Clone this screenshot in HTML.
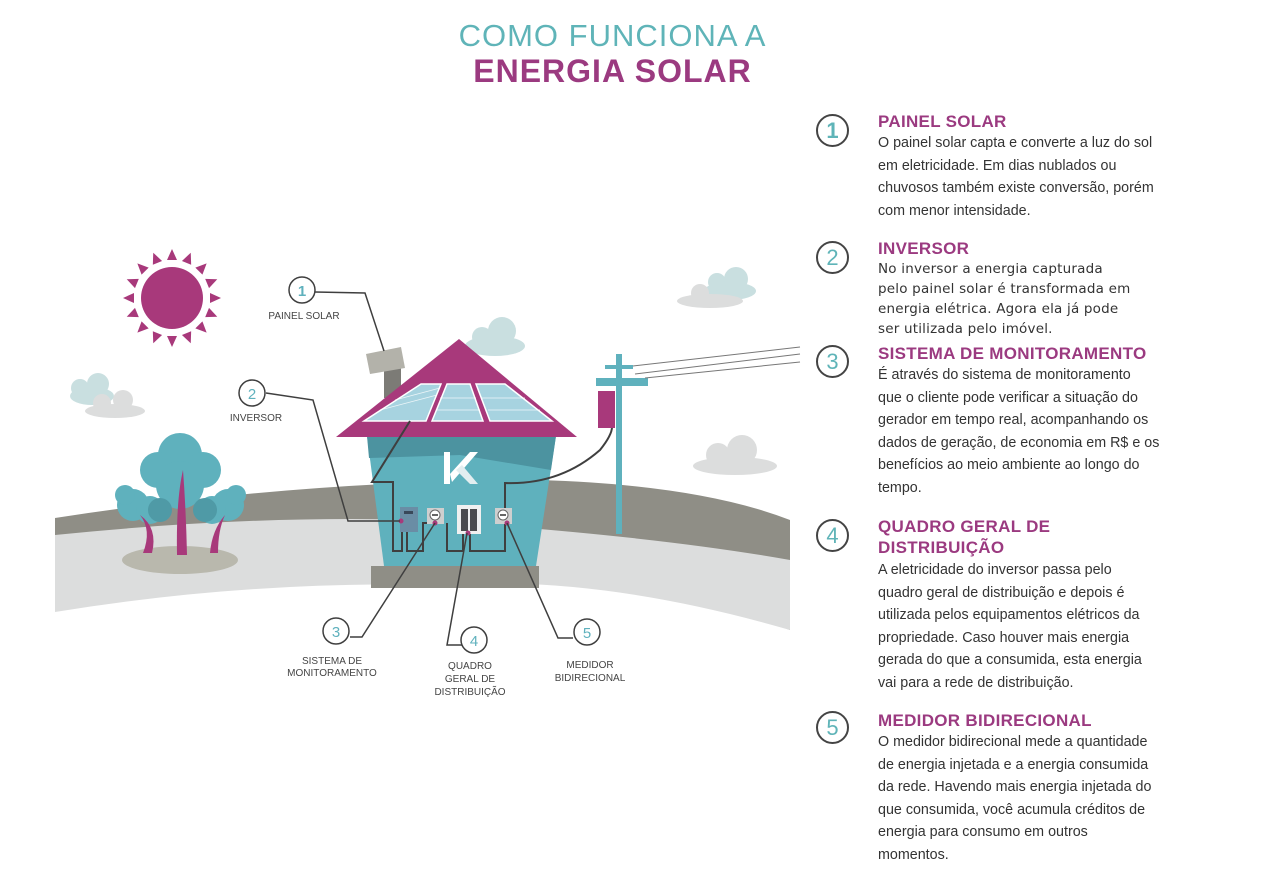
<!DOCTYPE html>
<html><head><meta charset="utf-8">
<style>
html,body{margin:0;padding:0;background:#fff;width:1283px;height:878px;overflow:hidden;position:relative;font-family:"Liberation Sans",sans-serif}
.t1{position:absolute;left:0;width:1225px;text-align:center;top:18px;font-size:31px;color:#5fb4b8;letter-spacing:1px;font-weight:normal}
.t2{position:absolute;left:0;width:1225px;text-align:center;top:53px;font-size:32px;color:#9b3a80;font-weight:bold;letter-spacing:1px}
.num{position:absolute;left:816px;width:33px;height:33px;border:2px solid #444;border-radius:50%;box-sizing:border-box;text-align:center;line-height:30px;font-size:22px;color:#5fb4b8}
.h{position:absolute;left:878px;font-size:17px;font-weight:bold;color:#9b3a80;line-height:21px;letter-spacing:.3px}
.p{position:absolute;left:878px;font-size:14.3px;line-height:22.5px;color:#333;width:292px}
.p2{font-family:"DejaVu Sans",sans-serif;font-size:13.5px;line-height:20px;letter-spacing:.2px;width:300px}
</style></head><body>
<div class="t1">COMO FUNCIONA A</div>
<div class="t2">ENERGIA SOLAR</div>

<svg width="1283" height="878" style="position:absolute;left:0;top:0">
<!-- ground -->
<path d="M55,518 Q300,480 540,480 Q700,485 790,520 L790,630 Q600,560 450,580 Q250,570 55,610 Z" fill="#8f8e86"/>
<path d="M55,535 Q250,515 420,520 Q650,535 790,560 L790,630 Q600,575 450,585 Q250,580 55,612 Z" fill="#dcdddd"/>
<!-- clouds -->
<g fill="#c9dfe0"><ellipse cx="92" cy="396" rx="22" ry="9"/><circle cx="80" cy="388" r="9"/><circle cx="98" cy="384" r="11"/></g>
<g fill="#dcdddd"><ellipse cx="115" cy="411" rx="30" ry="7"/><circle cx="102" cy="403" r="9"/><circle cx="123" cy="400" r="10"/></g>
<g fill="#c9dfe0"><ellipse cx="495" cy="346" rx="30" ry="10"/><circle cx="482" cy="337" r="10"/><circle cx="502" cy="331" r="14"/></g>
<g fill="#c9dfe0"><ellipse cx="730" cy="291" rx="26" ry="9"/><circle cx="717" cy="282" r="9"/><circle cx="736" cy="279" r="12"/></g>
<g fill="#dcdddd"><ellipse cx="710" cy="301" rx="33" ry="7"/><circle cx="700" cy="293" r="9"/></g>
<g fill="#dcdddd"><ellipse cx="735" cy="466" rx="42" ry="9"/><circle cx="718" cy="455" r="12"/><circle cx="742" cy="450" r="15"/></g>
<!-- sun -->
<g fill="#a8397b" transform="translate(172,298)">
<circle r="31"/>
<g id="r"><polygon points="-5,-38 5,-38 0,-49"/></g>
<use href="#r" transform="rotate(22.5)"/><use href="#r" transform="rotate(45)"/><use href="#r" transform="rotate(67.5)"/><use href="#r" transform="rotate(90)"/><use href="#r" transform="rotate(112.5)"/><use href="#r" transform="rotate(135)"/><use href="#r" transform="rotate(157.5)"/><use href="#r" transform="rotate(180)"/><use href="#r" transform="rotate(202.5)"/><use href="#r" transform="rotate(225)"/><use href="#r" transform="rotate(247.5)"/><use href="#r" transform="rotate(270)"/><use href="#r" transform="rotate(292.5)"/><use href="#r" transform="rotate(315)"/><use href="#r" transform="rotate(337.5)"/>
</g>
<!-- tree -->
<ellipse cx="180" cy="560" rx="58" ry="14" fill="#b9b8ad"/>
<g fill="#5fb1bd">
<circle cx="180" cy="455" r="22"/><circle cx="158" cy="470" r="18"/><circle cx="203" cy="470" r="18"/><circle cx="180" cy="485" r="24"/>
<circle cx="133" cy="505" r="16"/><circle cx="125" cy="495" r="10"/><circle cx="150" cy="510" r="14"/>
<circle cx="228" cy="505" r="16"/><circle cx="236" cy="495" r="10"/><circle cx="212" cy="510" r="14"/>
</g>
<g fill="#4f9aa6"><circle cx="160" cy="510" r="12"/><circle cx="205" cy="510" r="12"/></g>
<g fill="#a8397b">
<path d="M177,555 Q176,500 183,470 Q186,510 187,555Z"/>
<path d="M143,553 Q152,530 140,515 Q158,528 152,553Z"/>
<path d="M210,553 Q212,530 225,515 Q218,530 218,553Z"/>
</g>
<!-- chimney -->
<rect x="384" y="368" width="17" height="30" fill="#7c7b76"/>
<polygon points="366,354 401,347 405,368 370,374" fill="#b3b2aa"/>
<!-- house body -->
<polygon points="367,436 556,436 536,566 384,566" fill="#5fb1bd"/>
<polygon points="367,436 556,436 551,470 460,455 369,458" fill="#4c93a0"/>
<rect x="371" y="566" width="168" height="22" fill="#8f8e86"/>
<!-- roof -->
<polygon points="459,339 577,437 336,437" fill="#a8397b"/>
<g fill="#a7d3e0" stroke="#fff" stroke-width="1.5">
<polygon points="364,421 421,384 441,384 426,421"/>
<polygon points="432,421 447,384 470,384 483,421"/>
<polygon points="476,384 505,384 552,421 490,421"/>
</g>
<g stroke="#fff" stroke-width="0.7" opacity="0.8">
<line x1="380" y1="410" x2="437" y2="395"/><line x1="395" y1="400" x2="440" y2="388"/>
<line x1="436" y1="410" x2="480" y2="410"/><line x1="440" y1="398" x2="476" y2="398"/>
<line x1="488" y1="410" x2="540" y2="410"/><line x1="482" y1="398" x2="525" y2="398"/>
</g>
<!-- K logo -->
<polygon points="444,452 450,452 450,484 444,484" fill="#fff"/>
<polygon points="450,474 470,452 478,452 452,482" fill="#fff"/>
<polygon points="456,470 462,465 478,484 470,484" fill="#e3eef0"/>
<!-- wiring -->
<g fill="none" stroke="#3f3f3f" stroke-width="2">
<path d="M410,421 L372,482 L393,482 L393,551 L402,551 L402,531"/>
<path d="M407,531 L407,551 L423,551 L423,523 L436,523"/>
<path d="M447,523 L447,551 L463,551 L463,533 L470,533 L470,551 L505,551 L505,523"/>
<path d="M505,508 L505,483 Q560,485 600,450 Q612,435 612,427"/>
</g>
<!-- devices -->
<rect x="400" y="507" width="18" height="25" fill="#6a8da5"/>
<rect x="404" y="511" width="9" height="3" fill="#39485a"/>
<rect x="427" y="508" width="17" height="16" fill="#cfcfcf"/>
<circle cx="435" cy="515" r="5" fill="#fff" stroke="#666"/><line x1="432" y1="515" x2="438" y2="515" stroke="#333" stroke-width="1.5"/>
<rect x="457" y="505" width="24" height="29" fill="#f0f0f0"/>
<rect x="461" y="509" width="7" height="22" fill="#4b4b4e"/><rect x="470" y="509" width="7" height="22" fill="#4b4b4e"/>
<rect x="495" y="508" width="17" height="16" fill="#cfcfcf"/>
<circle cx="503" cy="515" r="5" fill="#fff" stroke="#666"/><line x1="500" y1="515" x2="506" y2="515" stroke="#333" stroke-width="1.5"/>
<g fill="#a8397b"><circle cx="401" cy="521" r="2.5"/><circle cx="435" cy="523" r="2.5"/><circle cx="468" cy="533" r="2.5"/><circle cx="507" cy="523" r="2.5"/></g>
<!-- pole -->
<rect x="616" y="354" width="6" height="180" fill="#5fb1bd"/>
<rect x="605" y="365" width="28" height="4" fill="#5fb1bd"/>
<rect x="596" y="378" width="52" height="8" fill="#5fb1bd"/>
<rect x="598" y="391" width="17" height="37" fill="#a8397b"/>
<g stroke="#777" stroke-width="1"><line x1="633" y1="366" x2="800" y2="347"/><line x1="635" y1="374" x2="800" y2="354"/><line x1="645" y1="378" x2="800" y2="362"/></g>
<!-- callouts -->
<g fill="none" stroke="#3f3f3f" stroke-width="1.5">
<path d="M315,292 L365,293 L384,351"/>
<path d="M266,393 L313,400 L348,521 L400,521"/>
<path d="M350,637 L362,637 L435,523"/>
<path d="M462,645 L447,645 L467,533"/>
<path d="M573,638 L558,638 L507,523"/>
</g>
<g fill="#fff" stroke="#3f3f3f" stroke-width="1.5">
<circle cx="302" cy="290" r="13"/><circle cx="252" cy="393" r="13"/><circle cx="336" cy="631" r="13"/><circle cx="474" cy="640" r="13"/><circle cx="587" cy="632" r="13"/>
</g>
<g font-family="Liberation Sans,sans-serif" fill="#5fb1bd" font-size="15" text-anchor="middle">
<text x="302" y="296" font-weight="bold">1</text><text x="252" y="399">2</text><text x="336" y="637">3</text><text x="474" y="646">4</text><text x="587" y="638">5</text>
</g>
<g font-family="Liberation Sans,sans-serif" fill="#444" font-size="10" text-anchor="middle">
<text x="304" y="319">PAINEL SOLAR</text>
<text x="256" y="421">INVERSOR</text>
<text x="332" y="664">SISTEMA DE</text><text x="332" y="676">MONITORAMENTO</text>
<text x="470" y="669">QUADRO</text><text x="470" y="682">GERAL DE</text><text x="470" y="695">DISTRIBUIÇÃO</text>
<text x="590" y="668">MEDIDOR</text><text x="590" y="681">BIDIRECIONAL</text>
</g>
</svg>

<div class="num" style="top:114px;font-weight:bold">1</div>
<div class="h" style="top:111px">PAINEL SOLAR</div>
<div class="p" style="top:132px">O painel solar capta e converte a luz do sol<br>em eletricidade. Em dias nublados ou<br>chuvosos também existe conversão, porém<br>com menor intensidade.</div>

<div class="num" style="top:241px">2</div>
<div class="h" style="top:238px">INVERSOR</div>
<div class="p p2" style="top:259px">No inversor a energia capturada<br>pelo painel solar é transformada em<br>energia elétrica. Agora ela já pode<br>ser utilizada pelo imóvel.</div>

<div class="num" style="top:345px">3</div>
<div class="h" style="top:343px">SISTEMA DE MONITORAMENTO</div>
<div class="p" style="top:364px">É através do sistema de monitoramento<br>que o cliente pode verificar a situação do<br>gerador em tempo real, acompanhando os<br>dados de geração, de economia em R$ e os<br>benefícios ao meio ambiente ao longo do<br>tempo.</div>

<div class="num" style="top:519px">4</div>
<div class="h" style="top:516px">QUADRO GERAL DE<br>DISTRIBUIÇÃO</div>
<div class="p" style="top:559px">A eletricidade do inversor passa pelo<br>quadro geral de distribuição e depois é<br>utilizada pelos equipamentos elétricos da<br>propriedade. Caso houver mais energia<br>gerada do que a consumida, esta energia<br>vai para a rede de distribuição.</div>

<div class="num" style="top:711px">5</div>
<div class="h" style="top:710px">MEDIDOR BIDIRECIONAL</div>
<div class="p" style="top:731px">O medidor bidirecional mede a quantidade<br>de energia injetada e a energia consumida<br>da rede. Havendo mais energia injetada do<br>que consumida, você acumula créditos de<br>energia para consumo em outros<br>momentos.</div>
</body></html>
